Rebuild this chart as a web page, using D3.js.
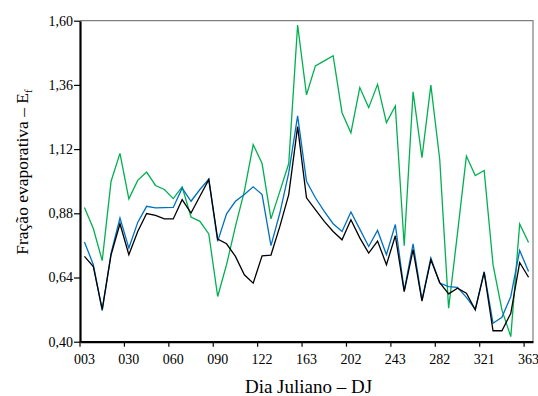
<!DOCTYPE html>
<html>
<head>
<meta charset="utf-8">
<script src="https://d3js.org/d3.v7.min.js"></script>
<style>
  body { margin: 0; background: #fff; }
  svg { display: block; }
  text { font-family: "Liberation Serif", "Times New Roman", serif; }
</style>
</head>
<body>
<svg id="chart" width="538" height="396"></svg>
<script>
////////////////////////////////////////////////////////////////////////////////
// Data
var dayLabels = ["003", "030", "060", "090", "122", "163", "202", "243", "282", "321", "363"]
var yTicks = [0.40, 0.64, 0.88, 1.12, 1.36, 1.60]

var greenSeries = [0.902, 0.823, 0.703, 1.000, 1.104, 0.934, 1.003, 1.034, 0.984, 0.969,
                   0.935, 0.979, 0.866, 0.850, 0.803, 0.569, 0.688, 0.831, 0.962, 1.137,
                   1.066, 0.859, 0.962, 1.066, 1.584, 1.323, 1.431, 1.450, 1.469, 1.256,
                   1.181, 1.350, 1.275, 1.362, 1.219, 1.281, 0.759, 1.334, 1.088, 1.359,
                   1.081, 0.525, 0.806, 1.094, 1.021, 1.040, 0.688, 0.519, 0.419, 0.840,
                   0.771]
var blueSeries = [0.773, 0.688, 0.516, 0.731, 0.863, 0.750, 0.846, 0.906, 0.900, 0.901,
                  0.902, 0.974, 0.925, 0.969, 1.008, 0.775, 0.878, 0.925, 0.950, 0.979,
                  0.950, 0.759, 0.881, 1.031, 1.244, 1.000, 0.938, 0.887, 0.841, 0.812,
                  0.885, 0.821, 0.756, 0.816, 0.725, 0.838, 0.591, 0.766, 0.556, 0.713,
                  0.619, 0.606, 0.603, 0.566, 0.521, 0.662, 0.469, 0.491, 0.569, 0.741,
                  0.662]
var blackSeries = [0.719, 0.681, 0.521, 0.725, 0.841, 0.725, 0.812, 0.879, 0.872, 0.859,
                   0.859, 0.931, 0.881, 0.944, 1.006, 0.784, 0.766, 0.719, 0.650, 0.619,
                   0.721, 0.724, 0.831, 0.950, 1.204, 0.938, 0.894, 0.850, 0.812, 0.781,
                   0.856, 0.788, 0.731, 0.776, 0.688, 0.796, 0.587, 0.744, 0.552, 0.706,
                   0.621, 0.579, 0.600, 0.581, 0.519, 0.659, 0.441, 0.441, 0.506, 0.696,
                   0.641]

////////////////////////////////////////////////////////////////////////////////
// Layout
var plotLeft = 80, plotRight = 533, plotTop = 20.7, plotBottom = 341.7
var svg = d3.select("#chart")

var x = d3.scaleBand()
  .domain(d3.range(greenSeries.length))
  .range([plotLeft, plotRight])
  .padding(0)

var y = d3.scaleLinear()
  .domain([0.4, 1.6])
  .range([plotBottom, plotTop])

// frame: grey top / right
svg.append("path")
  .attr("d", "M" + plotLeft + "," + plotTop + "H" + plotRight + "V" + plotBottom)
  .attr("fill", "none")
  .attr("stroke", "#7f7f7f")
  .attr("stroke-width", 1.2)

// series
var line = d3.line()
  .x((d, i) => x(i) + x.bandwidth() / 2)
  .y(d => y(d))

var series = [
  { values: greenSeries, color: "#00b050" },
  { values: blueSeries, color: "#0070c0" },
  { values: blackSeries, color: "#000000" }
]

svg.selectAll("path.series")
  .data(series)
  .join("path")
  .attr("class", "series")
  .attr("d", d => line(d.values))
  .attr("fill", "none")
  .attr("stroke", d => d.color)
  .attr("stroke-width", 1.3)
  .attr("stroke-linejoin", "miter")

// x axis
var xTickIdx = d3.range(0, greenSeries.length, 5)
var xAxis = d3.axisBottom(x)
  .tickValues(xTickIdx)
  .tickFormat((d, i) => dayLabels[i])
  .tickSize(5)
  .tickSizeOuter(0)

var gx = svg.append("g")
  .attr("transform", "translate(0," + plotBottom + ")")
  .call(xAxis)
gx.select(".domain").attr("stroke-width", 2.2).attr("stroke", "#000")
gx.selectAll(".tick line")
  .attr("x1", -x.bandwidth() / 2)
  .attr("x2", -x.bandwidth() / 2)
  .attr("stroke-width", 1.2)
gx.selectAll(".tick text")
  .attr("y", 12.5)
  .attr("font-size", 14)
  .attr("font-family", "Liberation Serif")
  .attr("fill", "#000")

// y axis
var yAxis = d3.axisLeft(y)
  .tickValues(yTicks)
  .tickFormat(d => d3.format(".2f")(d).replace(".", ","))
  .tickSize(6)
  .tickSizeOuter(0)

var gy = svg.append("g")
  .attr("transform", "translate(" + plotLeft + ",0)")
  .call(yAxis)
gy.select(".domain").attr("stroke-width", 2.2).attr("stroke", "#000")
gy.selectAll(".tick line").attr("stroke-width", 1.2)
gy.selectAll(".tick text")
  .attr("x", -7)
  .attr("font-size", 14)
  .attr("font-family", "Liberation Serif")
  .attr("fill", "#000")

// titles
svg.append("text")
  .attr("x", 308.5)
  .attr("y", 393)
  .attr("text-anchor", "middle")
  .attr("font-size", 19)
  .text("Dia Juliano \u2013 DJ")

var yTitle = svg.append("text")
  .attr("transform", "translate(28,172) rotate(-90)")
  .attr("text-anchor", "middle")
  .attr("font-size", 17.5)
yTitle.append("tspan").text("Fra\u00e7\u00e3o evaporativa \u2013 E")
yTitle.append("tspan").attr("font-size", 11).attr("dy", 4).text("f")
</script>
</body>
</html>
